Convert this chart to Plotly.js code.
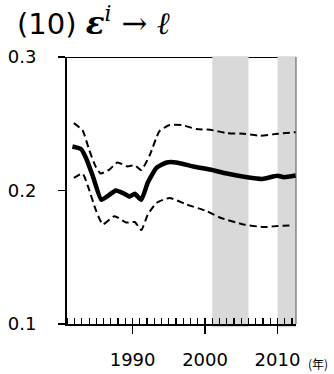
<!DOCTYPE html>
<html>
<head>
<meta charset="utf-8">
<script src="https://cdn.plot.ly/plotly-3.0.1.min.js"></script>
<style>html,body{margin:0;padding:0;background:#fff;}#chart{width:334px;height:374px;}</style>
</head>
<body>
<div id="chart"></div>
<script>
// Point estimate (solid)
const estYears = [1981.7, 1982.9, 1983.6, 1984.5, 1985.7, 1986.6, 1987.7, 1988.7, 1989.6, 1990.3, 1991.2, 1992.1, 1993.3, 1994.7, 1996.0, 1998.4, 2000.7, 2003.0, 2005.8, 2007.9, 2010.0, 2010.9, 2012.5];
const estValues = [0.233, 0.231, 0.224, 0.211, 0.193, 0.196, 0.200, 0.198, 0.1955, 0.1975, 0.193, 0.206, 0.217, 0.221, 0.221, 0.218, 0.2157, 0.2127, 0.210, 0.2087, 0.211, 0.210, 0.2112];
// Upper band (dashed)
const upYears = [1981.9, 1983.1, 1984.0, 1984.9, 1985.6, 1986.8, 1987.9, 1989.3, 1990.3, 1991.2, 1992.4, 1993.7, 1995.1, 1996.8, 1998.8, 2000.7, 2003.0, 2005.3, 2007.6, 2010.0, 2012.5];
const upValues = [0.2505, 0.245, 0.2306, 0.218, 0.2127, 0.2157, 0.221, 0.218, 0.219, 0.2153, 0.2269, 0.2444, 0.249, 0.249, 0.246, 0.2455, 0.243, 0.2425, 0.241, 0.2425, 0.2437];
// Lower band (dashed)
const loYears = [1981.9, 1983.1, 1984.0, 1984.9, 1985.9, 1987.5, 1989.1, 1990.3, 1991.2, 1992.1, 1993.3, 1995.1, 1997.4, 2000.2, 2002.1, 2005.3, 2008.1, 2010.0, 2012.1];
const loValues = [0.2094, 0.2127, 0.2007, 0.1858, 0.1746, 0.1808, 0.176, 0.1764, 0.1704, 0.182, 0.1907, 0.1944, 0.1896, 0.1846, 0.1796, 0.1746, 0.1726, 0.1734, 0.1739];
// Shaded periods
const bandStarts = [2001, 2010];
const bandEnds = [2006, 2012.55];
// Axis ticks
const xTicks = [1990, 2000, 2010];
const xTickLabels = ['1990', '2000', '2010'];
const yTicks = [0.1, 0.2, 0.3];
const yTickLabels = ['0.1', '0.2', '0.3'];

const FONT = '"DejaVu Sans", "Noto Sans CJK JP", sans-serif';
const CJK = '"Noto Sans CJK JP", sans-serif';

const traces = [
  {x: upYears, y: upValues, mode: 'lines', line: {color: '#000', width: 2, dash: '7px,4px', shape: 'spline', smoothing: 0.5}, hoverinfo: 'skip'},
  {x: loYears, y: loValues, mode: 'lines', line: {color: '#000', width: 2, dash: '7px,4px', shape: 'spline', smoothing: 0.5}, hoverinfo: 'skip'},
  {x: estYears, y: estValues, mode: 'lines', line: {color: '#000', width: 4.5, shape: 'spline', smoothing: 0.5}, hoverinfo: 'skip'}
];

const shapes = [
  {type: 'line', xref: 'paper', yref: 'y', x0: 0, x1: 1, y0: 0.3, y1: 0.3, line: {color: '#000', width: 2}, layer: 'below'}
];
for (let i = 0; i < bandStarts.length; i++) {
  shapes.push({type: 'rect', xref: 'x', yref: 'paper', x0: bandStarts[i], x1: bandEnds[i], y0: -0.012, y1: 1.003, fillcolor: '#d9d9d9', line: {width: 0}, layer: 'below'});
}
shapes.push({type: 'line', xref: 'paper', yref: 'paper', x0: 1, x1: 1, y0: 0, y1: 1, line: {color: '#555', width: 1}, layer: 'below'});

const layout = {
  width: 334, height: 374,
  margin: {l: 67, r: 38, t: 57, b: 50},
  paper_bgcolor: '#fff', plot_bgcolor: 'rgba(0,0,0,0)',
  showlegend: false,
  font: {family: FONT, color: '#000', size: 18},
  title: {
    text: '(10) <span style="font-family:DejaVu Serif;font-size:31px"><b><i>ε</i></b><sup><i>i</i></sup> → <b><i>ℓ</i></b></span>',
    xref: 'container', yref: 'container', x: 17/334, xanchor: 'left', y: 1 - 24/374, yanchor: 'middle',
    font: {family: FONT, size: 29, color: '#000'}
  },
  xaxis: {
    range: [1980.95, 2012.55], tickmode: 'array', tickvals: xTicks, ticktext: xTickLabels,
    ticks: 'outside', ticklen: 8, tickwidth: 1.5, tickcolor: '#000',
    minor: {ticks: 'inside', dtick: 1, tick0: 1980, ticklen: 6, tickwidth: 1.2, tickcolor: '#000'},
    showline: true, linewidth: 2, linecolor: '#000', showgrid: false, zeroline: false,
    ticklabelstandoff: 10, tickfont: {family: FONT, size: 18, color: '#000'}, fixedrange: true
  },
  yaxis: {
    range: [0.1, 0.3], tickmode: 'array', tickvals: yTicks, ticktext: yTickLabels,
    ticks: 'outside', ticklen: 7, tickwidth: 1.5, tickcolor: '#000',
    showline: true, linewidth: 2, linecolor: '#000', showgrid: false, zeroline: false,
    ticklabelstandoff: 18, tickfont: {family: FONT, size: 18, color: '#000'}, fixedrange: true
  },
  shapes: shapes,
  annotations: [
    {text: '(年)', xref: 'paper', yref: 'paper', x: (318 - 67) / 229, y: (324 - 363) / 267, xanchor: 'center', yanchor: 'middle', showarrow: false, font: {family: CJK, size: 12, color: '#000'}}
  ]
};

Plotly.newPlot('chart', traces, layout, {displayModeBar: false, staticPlot: true});
</script>
</body>
</html>
